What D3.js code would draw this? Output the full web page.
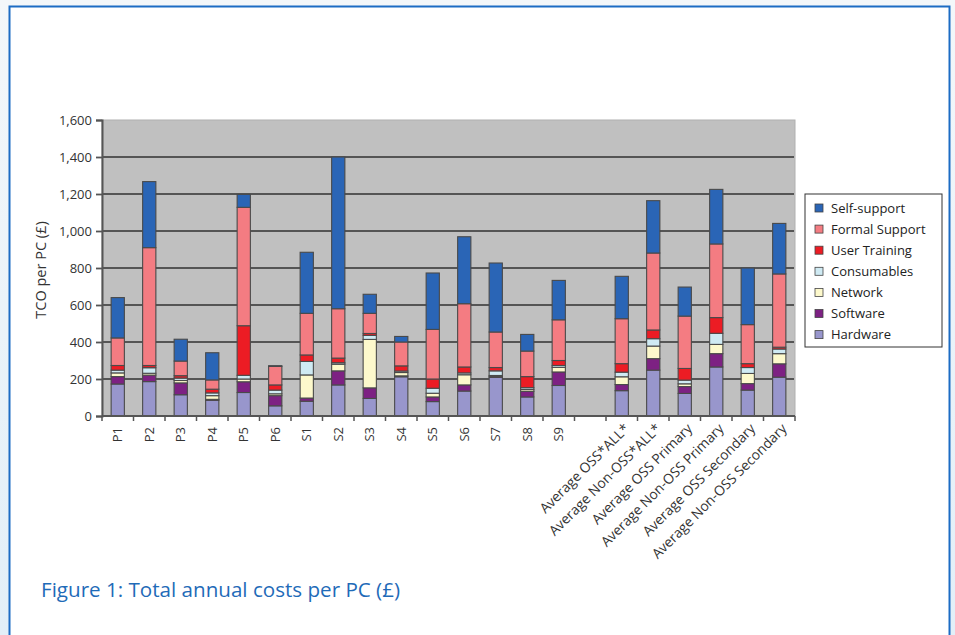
<!DOCTYPE html>
<html>
<head>
<meta charset="utf-8">
<script src="https://cdn.jsdelivr.net/npm/d3@7"></script>
<style>
  html, body { margin: 0; padding: 0; }
  body { width: 955px; height: 635px; overflow: hidden; background: #eef5fa; }
  svg { display: block; }
  text { font-family: "Open Sans", "Noto Sans", sans-serif; }
</style>
</head>
<body>
<svg id="chart" width="955" height="635"></svg>
<script>
// ---------- data ----------
const categories = ["P1","P2","P3","P4","P5","P6","S1","S2","S3","S4","S5","S6","S7","S8","S9","",
  "Average OSS*ALL*","Average Non-OSS*ALL*","Average OSS Primary","Average Non-OSS Primary",
  "Average OSS Secondary","Average Non-OSS Secondary"];

const hardware     = [173,186,115, 85,127, 55, 80,168, 95,212, 78,135,209,103,165,null,137,248,122,265,140,210];
const software     = [ 40, 35, 64,  5, 58, 55, 17, 76, 57,  5, 25, 33,  5, 30, 73,null, 33, 62, 37, 72, 35, 72];
const network      = [ 20, 10, 13, 20, 15, 10,125, 36,262, 18, 20, 55,  5, 10, 25,null, 42, 68, 15, 50, 55, 55];
const consumables  = [ 15, 30, 13, 15, 20, 20, 73,  8, 22,  8, 27, 10, 25, 10, 10,null, 25, 40, 20, 60, 32, 25];
const userTraining = [ 25, 12, 13, 20,268, 28, 35, 25, 10, 28, 50, 32, 18, 60, 27,null, 46, 47, 63, 85, 21, 10];
const formalSupport= [149,637, 79, 50,640,100,225,267,109,129,268,342,192,138,220,null,243,416,283,398,211,396];
const selfSupport  = [218,357,118,147, 70,  4,330,820,103, 30,305,362,373, 90,213,null,229,283,157,295,306,273];

const seriesNames  = ["Hardware","Software","Network","Consumables","User Training","Formal Support","Self-support"];
const seriesValues = [hardware, software, network, consumables, userTraining, formalSupport, selfSupport];
const seriesColors = ["#9896cc","#7d2183","#fdf9cc","#cfeaf3","#ec1c24","#f47c82","#2a65b6"];

const yTicks = [0,200,400,600,800,1000,1200,1400,1600];
const captionText = "Figure 1: Total annual costs per PC (£)";
const yTitle = "TCO per PC (£)";

// ---------- layout ----------
const svg = d3.select("#chart");
const plot = {left: 102, right: 795, top: 120, bottom: 416};

// background gradient outside frame
const defs = svg.append("defs");
const grad = defs.append("linearGradient").attr("id","bg").attr("x1","0").attr("y1","0").attr("x2","0").attr("y2","1");
grad.append("stop").attr("offset","0").attr("stop-color","#f3f7fa");
grad.append("stop").attr("offset","1").attr("stop-color","#e2eff8");
svg.append("rect").attr("width",955).attr("height",635).attr("fill","url(#bg)");

// white card with blue border
svg.append("rect").attr("x",9.5).attr("y",6.5).attr("width",940).attr("height",640)
  .attr("fill","#ffffff").attr("stroke","#1c6cc4").attr("stroke-width",2);

// table rows
const rows = categories.map((c,i) => {
  const r = {cat: c, idx: i};
  seriesNames.forEach((s,j) => r[s] = seriesValues[j][i]);
  return r;
});

const x = d3.scaleBand().domain(d3.range(categories.length)).range([plot.left, plot.right]).padding(0);
const y = d3.scaleLinear().domain([0,1600]).range([plot.bottom, plot.top]);
const barW = x.bandwidth() * 0.42;

// plot area
svg.append("rect").attr("x",plot.left).attr("y",plot.top)
  .attr("width",plot.right-plot.left).attr("height",plot.bottom-plot.top)
  .attr("fill","#c0c0c0").attr("stroke","#b0b0b0").attr("stroke-width",1);

// gridlines
svg.append("g").selectAll("line").data(yTicks.filter(t => t>0 && t<1600)).join("line")
  .attr("x1",plot.left).attr("x2",plot.right-1)
  .attr("y1",d=>y(d)).attr("y2",d=>y(d))
  .attr("stroke","#555555").attr("stroke-width",1.8);

// y axis
const yAxis = d3.axisLeft(y).tickValues(yTicks).tickSize(6).tickPadding(4)
  .tickFormat(d3.format(","));
const gy = svg.append("g").attr("transform",`translate(${plot.left},0)`).call(yAxis);
gy.select(".domain").attr("stroke","#555").attr("stroke-width",2);
gy.selectAll(".tick line").attr("stroke","#555").attr("stroke-width",1.8);
gy.selectAll(".tick text").attr("fill","#333").style("font-size","13px")
  .style("font-family","'Open Sans', sans-serif");

// stacked bars
const stack = d3.stack().keys(seriesNames).value((d,k) => d[k] == null ? 0 : d[k]);
const stacked = stack(rows);
const gBars = svg.append("g");
stacked.forEach((layer,j) => {
  gBars.append("g").attr("fill",seriesColors[j]).selectAll("rect")
    .data(layer.filter(d => d.data.cat !== "" && d[1] > d[0])).join("rect")
    .attr("x", d => x(d.data.idx) + (x.bandwidth()-barW)/2)
    .attr("width", barW)
    .attr("y", d => y(d[1]))
    .attr("height", d => y(d[0]) - y(d[1]))
    .attr("stroke","#4a4a4a").attr("stroke-width",1.1);
});

// x axis line + ticks at category boundaries
const gx = svg.append("g");
gx.append("line").attr("x1",plot.left).attr("x2",plot.right)
  .attr("y1",plot.bottom).attr("y2",plot.bottom).attr("stroke","#555").attr("stroke-width",2);
gx.selectAll("line.tk").data(d3.range(categories.length+1)).join("line").attr("class","tk")
  .attr("x1", i => plot.left + i*x.step()).attr("x2", i => plot.left + i*x.step())
  .attr("y1",plot.bottom).attr("y2",plot.bottom+5)
  .attr("stroke","#555").attr("stroke-width",1.5);

// x labels
rows.forEach(r => {
  if (r.cat === "") return;
  const cx = x(r.idx) + x.bandwidth()/2;
  if (r.cat.startsWith("Average")) {
    svg.append("text").attr("transform",`translate(${cx+5},${plot.bottom+10}) rotate(-45)`)
      .attr("text-anchor","end").attr("dy","0.35em")
      .style("font-size","13.8px").attr("fill","#333").text(r.cat);
  } else {
    svg.append("text").attr("transform",`translate(${cx},${plot.bottom+11}) rotate(-90)`)
      .attr("text-anchor","end").attr("dy","0.35em")
      .style("font-size","13px").attr("fill","#333").text(r.cat);
  }
});

// y title
svg.append("text").attr("transform","translate(41,270) rotate(-90)")
  .attr("text-anchor","middle").attr("dy","0.35em")
  .style("font-size","14.5px").attr("fill","#333").text(yTitle);

// legend
const lg = svg.append("g");
lg.append("rect").attr("x",805).attr("y",194).attr("width",137).attr("height",153)
  .attr("fill","#fff").attr("stroke","#333").attr("stroke-width",1);
const legendOrder = seriesNames.map((n,i)=>i).reverse();
legendOrder.forEach((si,k) => {
  const yy = 208 + k*21.1;
  lg.append("rect").attr("x",815).attr("y",yy-4).attr("width",8).attr("height",8)
    .attr("fill",seriesColors[si]).attr("stroke","#444").attr("stroke-width",0.8);
  lg.append("text").attr("x",831).attr("y",yy).attr("dy","0.35em")
    .style("font-size","13px").attr("fill","#222").text(seriesNames[si]);
});

// caption
svg.append("text").attr("x",41).attr("y",597)
  .style("font-size","20.6px").attr("fill","#1f6bb8").text(captionText);
</script>
</body>
</html>
